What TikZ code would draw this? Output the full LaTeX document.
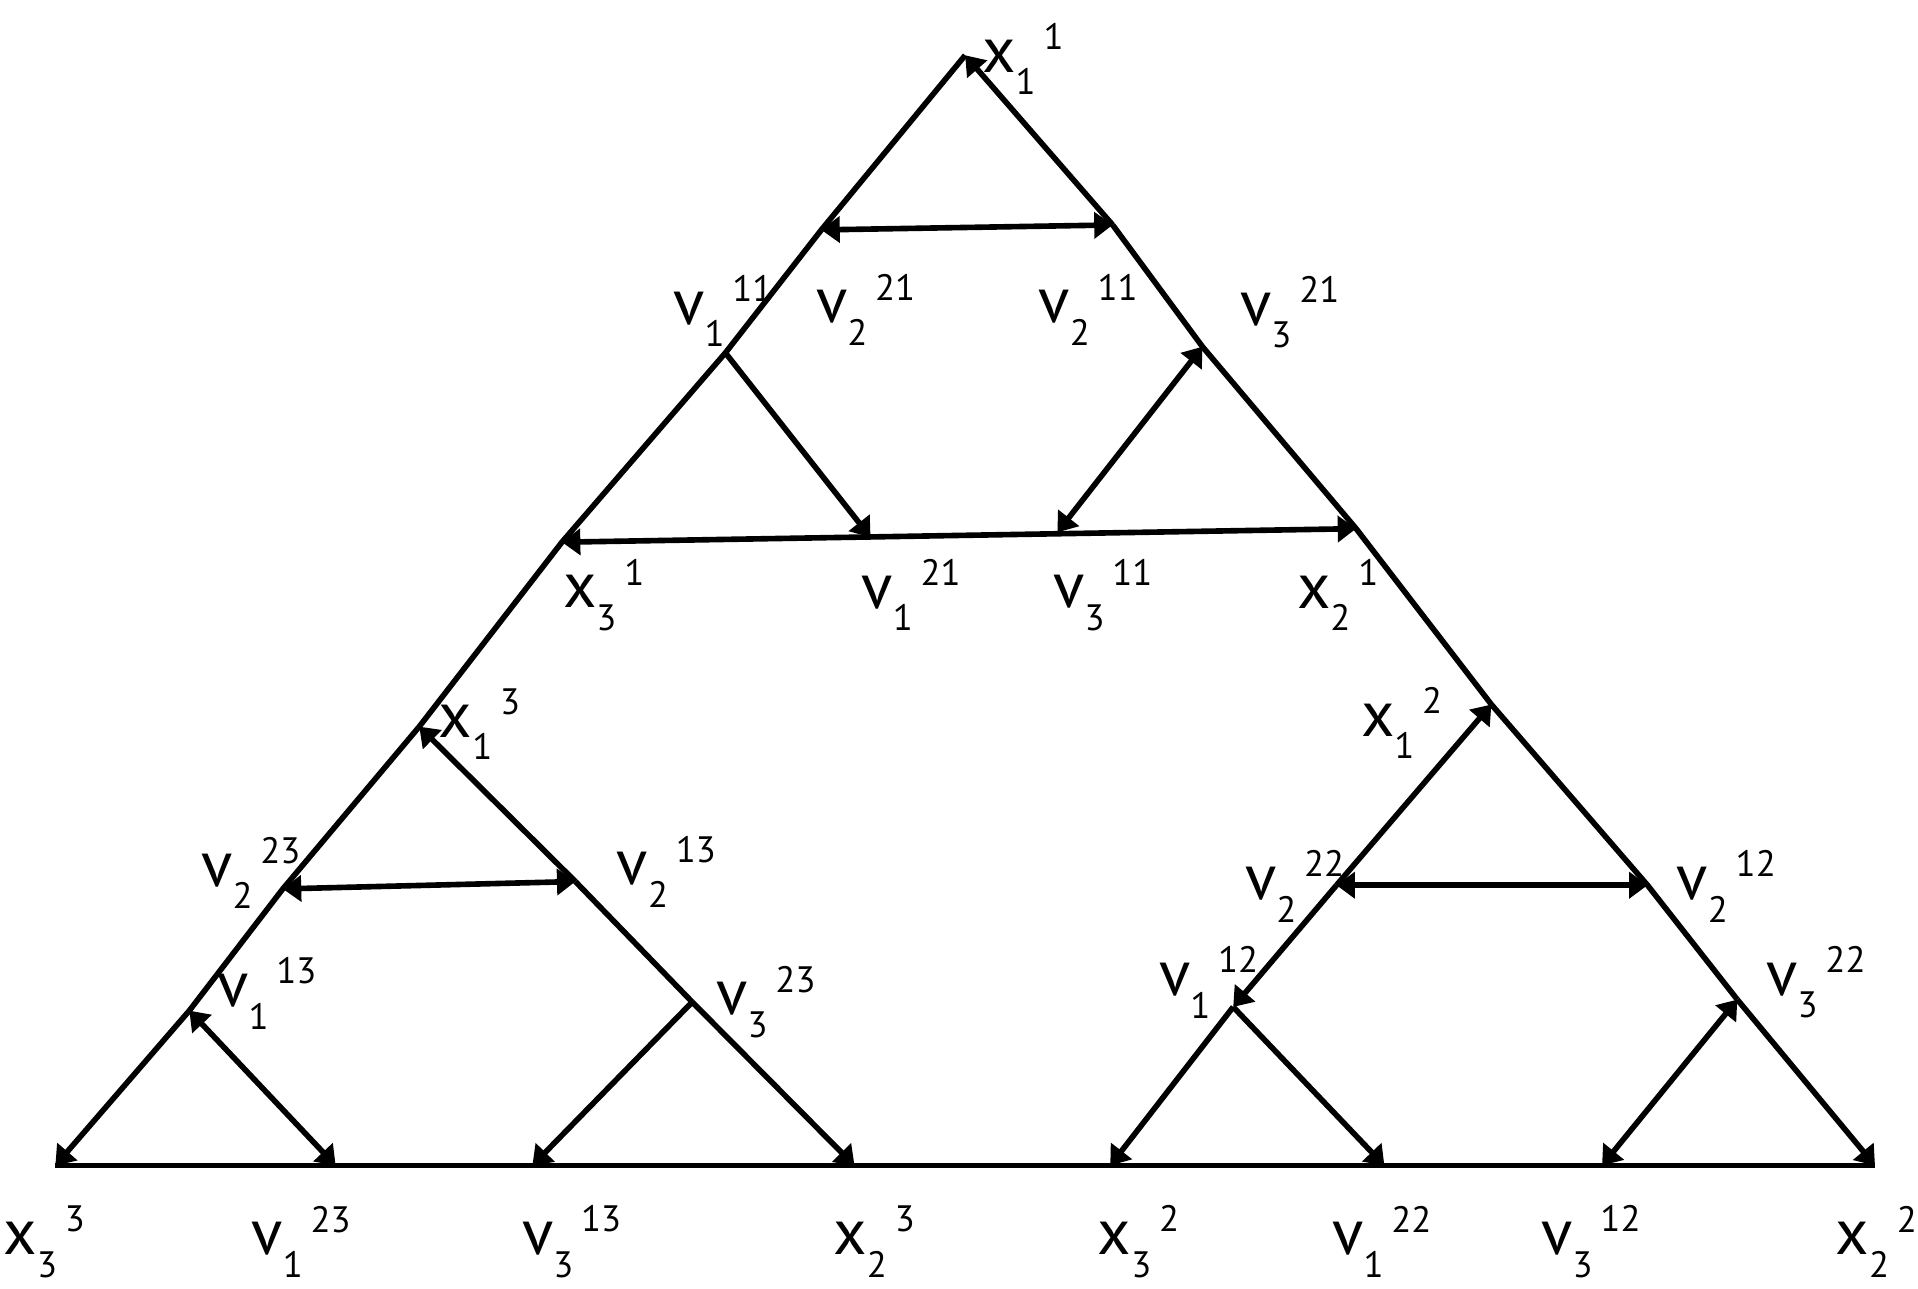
\documentclass[tikz,border=0pt]{standalone}
\usepackage{fontspec}
\setmainfont{PT Sans}
\usepackage{tikz}
\usetikzlibrary{arrows.meta}

\newcommand{\scr}{\fontsize{8.5}{10}\selectfont}
\newcommand{\lbl}[3]{#1\raisebox{-0.7ex}{\scr #2}\hspace{0.12em}\raisebox{0.7ex}{\scr #3}}

\tikzset{
  edge/.style={line width=1.3pt, line join=round},
  vtip/.tip={Triangle[length=0.15cm,width=0.21cm]},
  lab/.style={font=\fontsize{15}{18}\selectfont, inner sep=0pt}
}

\begin{document}
\begin{tikzpicture}
\useasboundingbox (0,0) rectangle (15.6,10.48);
% vertices
\coordinate (x11) at (7.85,10.03);
\coordinate (v221) at (6.68,8.61);
\coordinate (v211) at (9.05,8.65);
\coordinate (v111) at (5.90,7.61);
\coordinate (v321) at (9.78,7.66);
\coordinate (x31) at (4.57,6.07);
\coordinate (v121) at (7.08,6.11);
\coordinate (v311) at (8.60,6.15);
\coordinate (x21) at (11.03,6.18);
\coordinate (x13) at (3.41,4.57);
\coordinate (x12) at (12.13,4.75);
\coordinate (v223) at (2.30,3.25);
\coordinate (v213) at (4.68,3.31);
\coordinate (v222) at (10.87,3.28);
\coordinate (v212) at (13.40,3.28);
\coordinate (v113) at (1.54,2.26);
\coordinate (v323) at (5.63,2.33);
\coordinate (v112) at (10.03,2.29);
\coordinate (v322) at (14.13,2.35);
\coordinate (x33) at (0.45,1.00);
\coordinate (v123) at (2.73,1.00);
\coordinate (v313) at (4.33,1.00);
\coordinate (x23) at (6.95,1.00);
\coordinate (x32) at (9.03,1.00);
\coordinate (v122) at (11.26,1.00);
\coordinate (v312) at (13.03,1.00);
\coordinate (x22) at (15.25,1.00);

% outer sides
\draw[edge] (x11) -- (v221) -- (v111) -- (x31) -- (x13) -- (v223) -- (v113);
\draw[edge,-vtip] (v113) -- (x33);
\draw[edge,-vtip] (v211) -- (x11);
\draw[edge] (v211) -- (v321) -- (x21) -- (x12) -- (v212) -- (v322);
\draw[edge,-vtip] (v322) -- (x22);
\draw[edge] (x33) -- (x22);

% top triangle
\draw[edge,vtip-vtip] (v221) -- (v211);
\draw[edge,-vtip] (v111) -- (v121);
\draw[edge,vtip-vtip] (v311) -- (v321);
\draw[edge,vtip-vtip] (x31) -- (x21);

% left triangle
\draw[edge,-vtip] (v213) -- (x13);
\draw[edge] (v213) -- (v323);
\draw[edge,-vtip] (v323) -- (x23);
\draw[edge,vtip-vtip] (v223) -- (v213);
\draw[edge,vtip-vtip] (v113) -- (v123);
\draw[edge,-vtip] (v323) -- (v313);

% right triangle
\draw[edge,-vtip] (v222) -- (x12);
\draw[edge,-vtip] (v222) -- (v112);
\draw[edge,-vtip] (v112) -- (x32);
\draw[edge,vtip-vtip] (v222) -- (v212);
\draw[edge,-vtip] (v112) -- (v122);
\draw[edge,vtip-vtip] (v312) -- (v322);

% labels
\node[lab] (l-x11) at (8.32,10.0) {\lbl{x}{1}{1}};
\node[lab] (l-v111) at (5.88,7.95) {\lbl{v}{1}{11}};
\node[lab] (l-v221) at (7.04,7.96) {\lbl{v}{2}{21}};
\node[lab] (l-v211) at (8.85,7.96) {\lbl{v}{2}{11}};
\node[lab] (l-v321) at (10.49,7.94) {\lbl{v}{3}{21}};
\node[lab] (l-x31) at (4.91,5.64) {\lbl{x}{3}{1}};
\node[lab] (l-v121) at (7.41,5.64) {\lbl{v}{1}{21}};
\node[lab] (l-v311) at (8.97,5.64) {\lbl{v}{3}{11}};
\node[lab] (l-x21) at (10.88,5.64) {\lbl{x}{2}{1}};
\node[lab] (l-x13) at (3.90,4.59) {\lbl{x}{1}{3}};
\node[lab] (l-x12) at (11.40,4.60) {\lbl{x}{1}{2}};
\node[lab] (l-v223) at (2.04,3.38) {\lbl{v}{2}{23}};
\node[lab] (l-v213) at (5.42,3.39) {\lbl{v}{2}{13}};
\node[lab] (l-v222) at (10.53,3.27) {\lbl{v}{2}{22}};
\node[lab] (l-v212) at (14.04,3.27) {\lbl{v}{2}{12}};
\node[lab] (l-v113) at (2.17,2.40) {\lbl{v}{1}{13}};
\node[lab] (l-v323) at (6.23,2.33) {\lbl{v}{3}{23}};
\node[lab] (l-v112) at (9.83,2.49) {\lbl{v}{1}{12}};
\node[lab] (l-v322) at (14.77,2.49) {\lbl{v}{3}{22}};
\node[lab] (l-x33) at (0.36,0.38) {\lbl{x}{3}{3}};
\node[lab] (l-v123) at (2.45,0.38) {\lbl{v}{1}{23}};
\node[lab] (l-v313) at (4.65,0.38) {\lbl{v}{3}{13}};
\node[lab] (l-x23) at (7.11,0.38) {\lbl{x}{2}{3}};
\node[lab] (l-x32) at (9.26,0.38) {\lbl{x}{3}{2}};
\node[lab] (l-v122) at (11.24,0.38) {\lbl{v}{1}{22}};
\node[lab] (l-v312) at (12.94,0.38) {\lbl{v}{3}{12}};
\node[lab] (l-x22) at (15.26,0.38) {\lbl{x}{2}{2}};
\end{tikzpicture}
\end{document}
